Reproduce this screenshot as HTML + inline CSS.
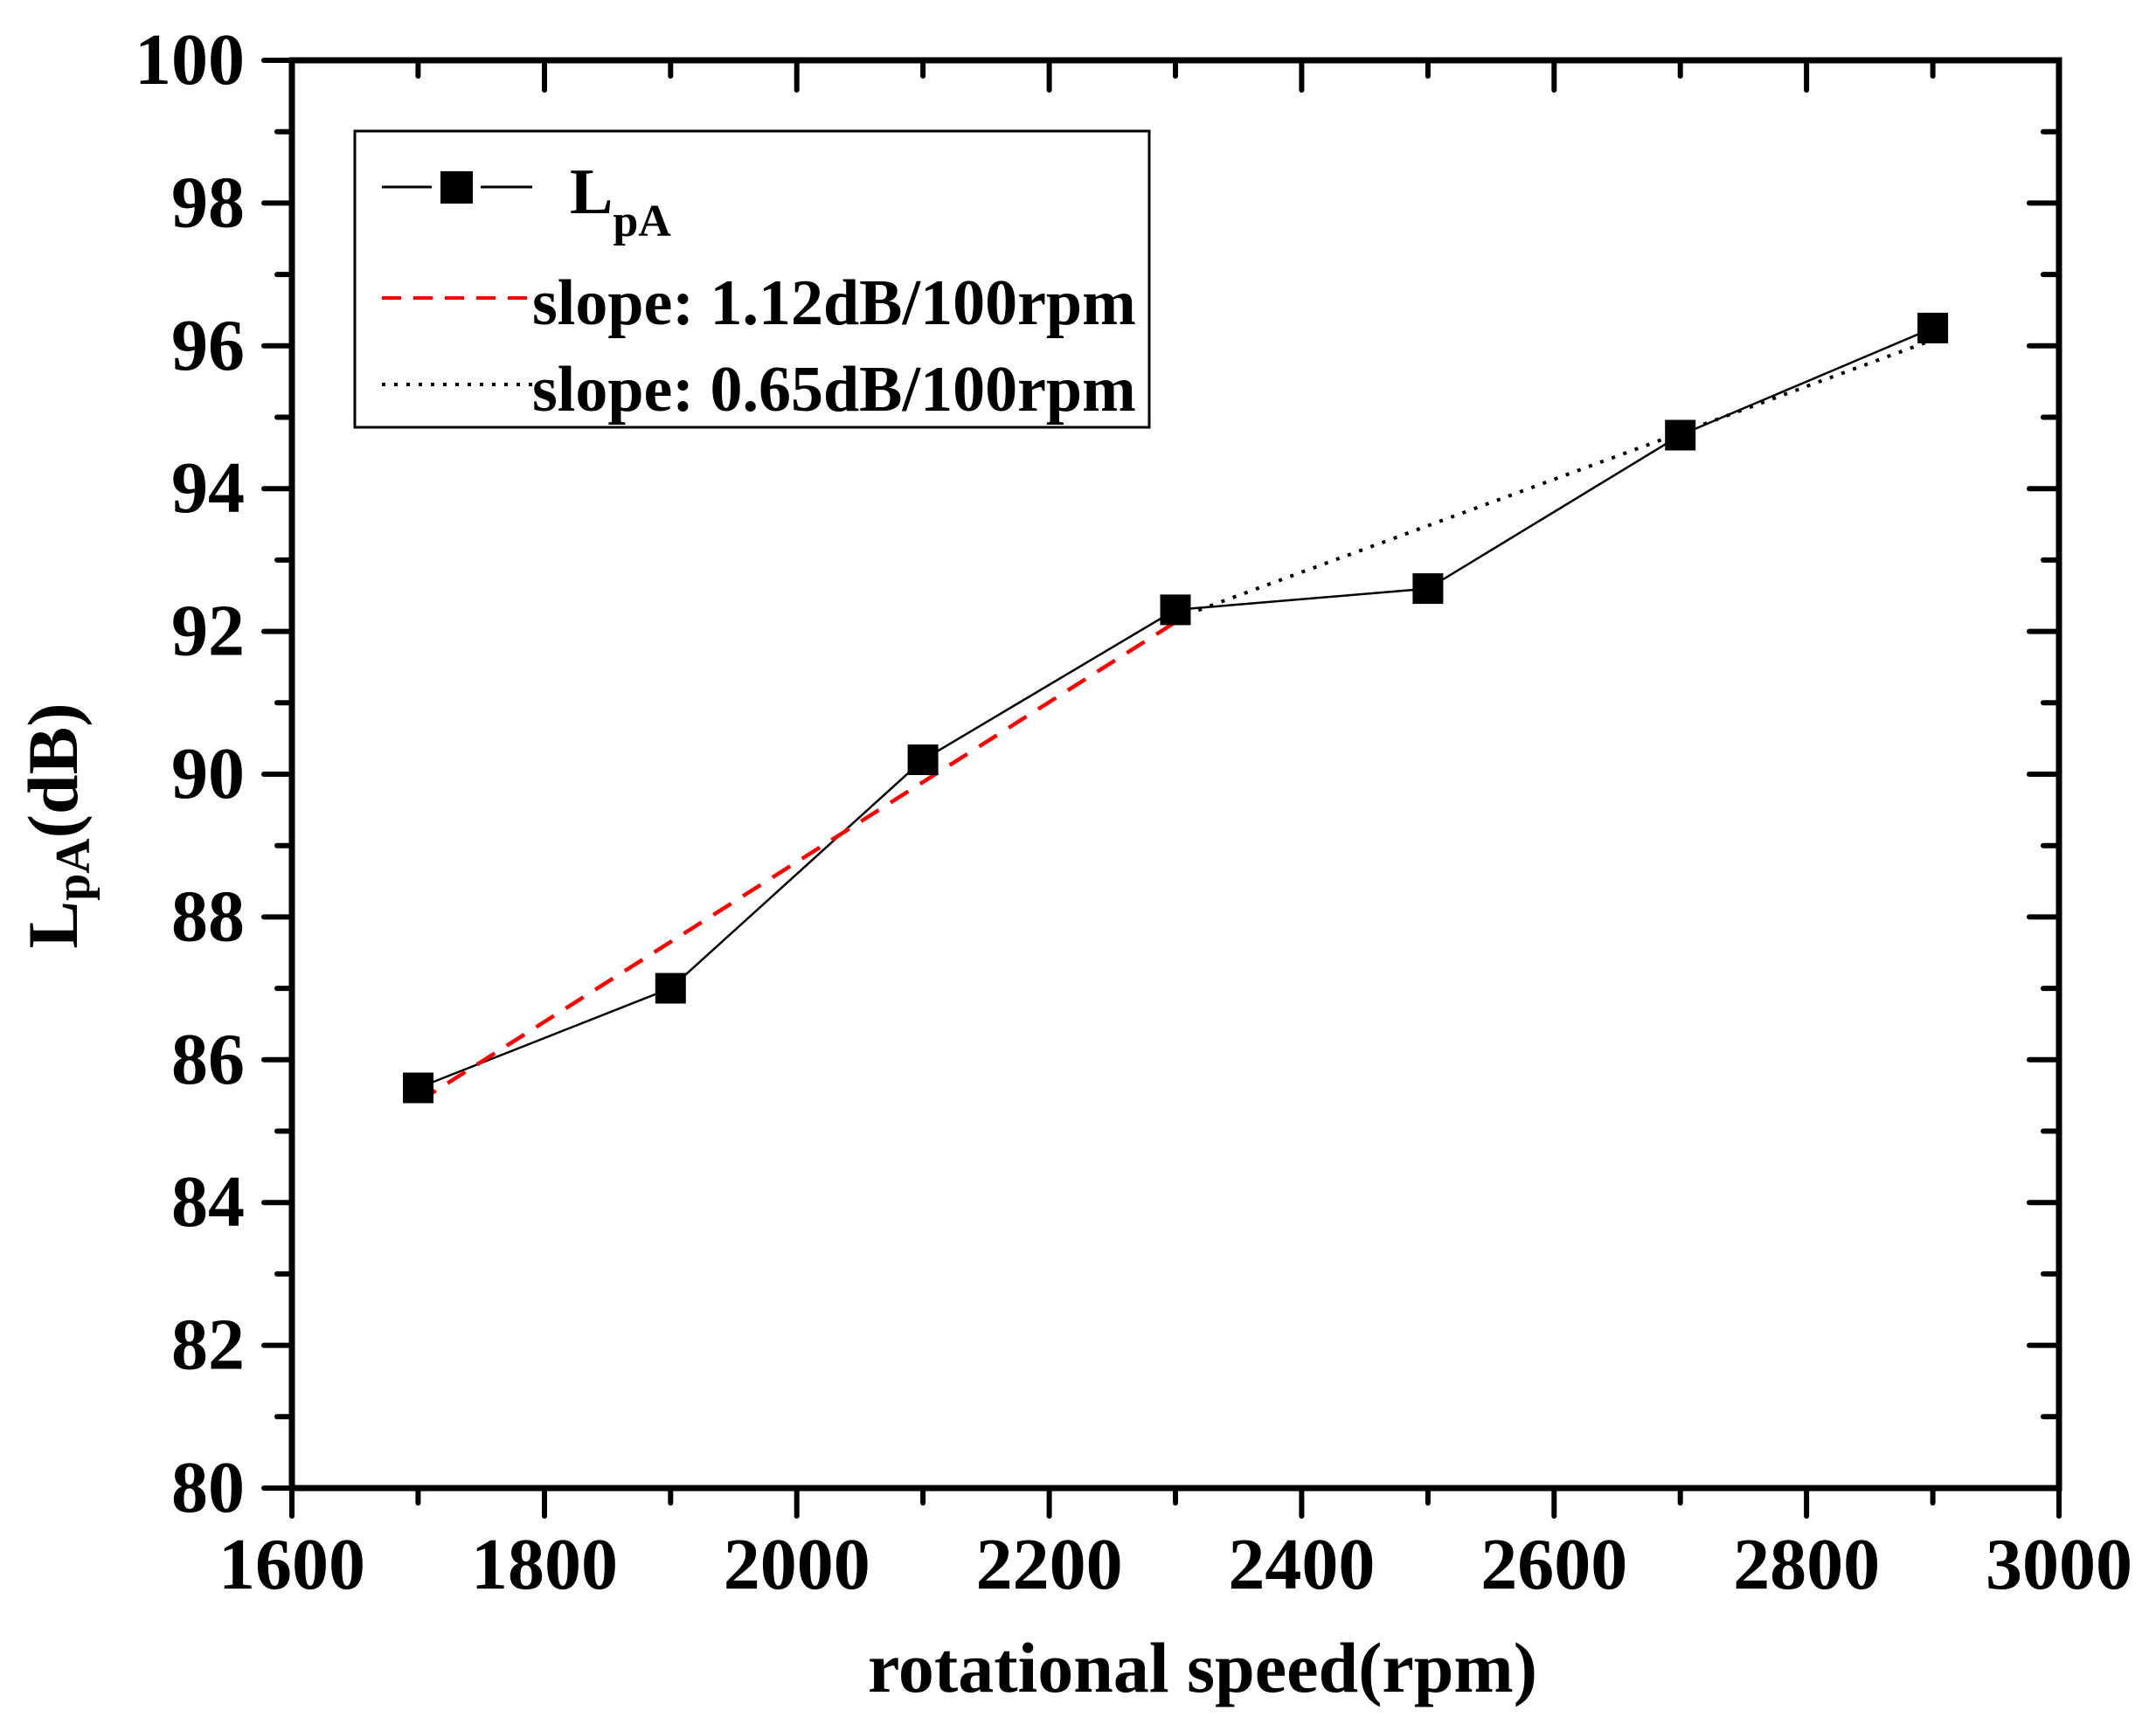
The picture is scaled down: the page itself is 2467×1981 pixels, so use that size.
<!DOCTYPE html>
<html><head><meta charset="utf-8"><style>
html,body{margin:0;padding:0;background:#fff}
svg{display:block}
text{font-family:"Liberation Serif",serif;font-weight:bold;fill:#000}
</style></head><body>
<svg width="2467" height="1981" viewBox="0 0 2467 1981" xmlns="http://www.w3.org/2000/svg">
<g id="ticks" stroke="#000" stroke-width="6" stroke-linecap="round">
<line x1="334" y1="1703" x2="334" y2="1735"/><line x1="478.4" y1="1703" x2="478.4" y2="1720"/>
<line x1="623" y1="1703" x2="623" y2="1735"/><line x1="767.3" y1="1703" x2="767.3" y2="1720"/>
<line x1="911.7" y1="1703" x2="911.7" y2="1735"/><line x1="1056.1" y1="1703" x2="1056.1" y2="1720"/>
<line x1="1200.6" y1="1703" x2="1200.6" y2="1735"/><line x1="1345" y1="1703" x2="1345" y2="1720"/>
<line x1="1489.4" y1="1703" x2="1489.4" y2="1735"/><line x1="1633.9" y1="1703" x2="1633.9" y2="1720"/>
<line x1="1778.3" y1="1703" x2="1778.3" y2="1735"/><line x1="1922.7" y1="1703" x2="1922.7" y2="1720"/>
<line x1="2067.1" y1="1703" x2="2067.1" y2="1735"/><line x1="2211.6" y1="1703" x2="2211.6" y2="1720"/>
<line x1="2356" y1="1703" x2="2356" y2="1735"/>
<line x1="478.4" y1="69" x2="478.4" y2="87"/><line x1="623" y1="69" x2="623" y2="103"/>
<line x1="767.3" y1="69" x2="767.3" y2="87"/><line x1="911.7" y1="69" x2="911.7" y2="103"/>
<line x1="1056.1" y1="69" x2="1056.1" y2="87"/><line x1="1200.6" y1="69" x2="1200.6" y2="103"/>
<line x1="1345" y1="69" x2="1345" y2="87"/><line x1="1489.4" y1="69" x2="1489.4" y2="103"/>
<line x1="1633.9" y1="69" x2="1633.9" y2="87"/><line x1="1778.3" y1="69" x2="1778.3" y2="103"/>
<line x1="1922.7" y1="69" x2="1922.7" y2="87"/><line x1="2067.1" y1="69" x2="2067.1" y2="103"/>
<line x1="2211.6" y1="69" x2="2211.6" y2="87"/>
</g>
<g stroke="#000" stroke-width="6" stroke-linecap="round" id="yt"></g>
<g id="axes" stroke="#000" stroke-width="7" fill="none">
<rect x="334" y="69" width="2022" height="1634"/>
</g>
<g font-size="84" text-anchor="middle" id="xl">
<text x="334" y="1818">1600</text><text x="623" y="1818">1800</text><text x="911.7" y="1818">2000</text>
<text x="1200.6" y="1818">2200</text><text x="1489.4" y="1818">2400</text><text x="1778.3" y="1818">2600</text>
<text x="2067.1" y="1818">2800</text><text x="2356" y="1818">3000</text>
</g>
<g font-size="84" text-anchor="end" id="yl"></g>
<text x="1376" y="1936" font-size="82" text-anchor="middle">rotational speed(rpm)</text>
<text transform="translate(88,945) rotate(-90)" font-size="82" text-anchor="middle">L<tspan font-size="56" dy="14">pA</tspan><tspan dy="-14">(dB)</tspan></text>
<rect x="406" y="150" width="909" height="339" fill="none" stroke="#000" stroke-width="3"/>
<line x1="437" y1="214" x2="494" y2="214" stroke="#000" stroke-width="3"/>
<line x1="550" y1="214" x2="609" y2="214" stroke="#000" stroke-width="3"/>
<rect x="504" y="196" width="37" height="37" fill="#000"/>
<text x="652" y="244" font-size="74">L<tspan font-size="52" dy="26">pA</tspan></text>
<line x1="437" y1="341" x2="609" y2="341" stroke="#f00" stroke-width="4" stroke-dasharray="22,14"/>
<text x="609" y="371" font-size="74">slope: 1.12dB/100rpm</text>
<line x1="437" y1="440" x2="609" y2="440" stroke="#000" stroke-width="4" stroke-dasharray="4,10"/>
<text x="609" y="470" font-size="74">slope: 0.65dB/100rpm</text>
<polyline fill="none" stroke="#000" stroke-width="2.5" points="478.4,1245 767.3,1131 1056.1,869.5 1345,697.9 1633.9,673.6 1922.7,498 2211.6,375.4"/>
<line x1="478.4" y1="1261" x2="1345" y2="712" stroke="#f00" stroke-width="4.5" stroke-dasharray="24,16"/>
<line x1="1345" y1="708" x2="2211.6" y2="389" stroke="#000" stroke-width="4" stroke-dasharray="4,10"/>
<g fill="#000">
<rect x="461" y="1227.5" width="35" height="35"/>
<rect x="749.8" y="1113.5" width="35" height="35"/>
<rect x="1038.6" y="852" width="35" height="35"/>
<rect x="1327.5" y="680.4" width="35" height="35"/>
<rect x="1616.4" y="656.1" width="35" height="35"/>
<rect x="1905.2" y="480.5" width="35" height="35"/>
<rect x="2194.1" y="357.9" width="35" height="35"/>
</g>
<script>
(function(){var ns="http://www.w3.org/2000/svg";var g=document.getElementById("yt"),yl=document.getElementById("yl");
for(var v=80;v<=100;v++){var y=1703-(v-80)*81.7;var maj=(v%2==0);
if(v>80&&v<100){var l=document.createElementNS(ns,"line");l.setAttribute("x1",334);l.setAttribute("x2",maj?302:317);l.setAttribute("y1",y);l.setAttribute("y2",y);g.appendChild(l);
var r=document.createElementNS(ns,"line");r.setAttribute("x1",2356);r.setAttribute("x2",maj?2322:2338);r.setAttribute("y1",y);r.setAttribute("y2",y);g.appendChild(r);}
if(v==80||v==100){var l2=document.createElementNS(ns,"line");l2.setAttribute("x1",334);l2.setAttribute("x2",302);l2.setAttribute("y1",y);l2.setAttribute("y2",y);g.appendChild(l2);}
if(maj){var t=document.createElementNS(ns,"text");t.setAttribute("x",280);t.setAttribute("y",y+27);t.textContent=v;yl.appendChild(t);}}})();
</script>
</svg>
</body></html>
